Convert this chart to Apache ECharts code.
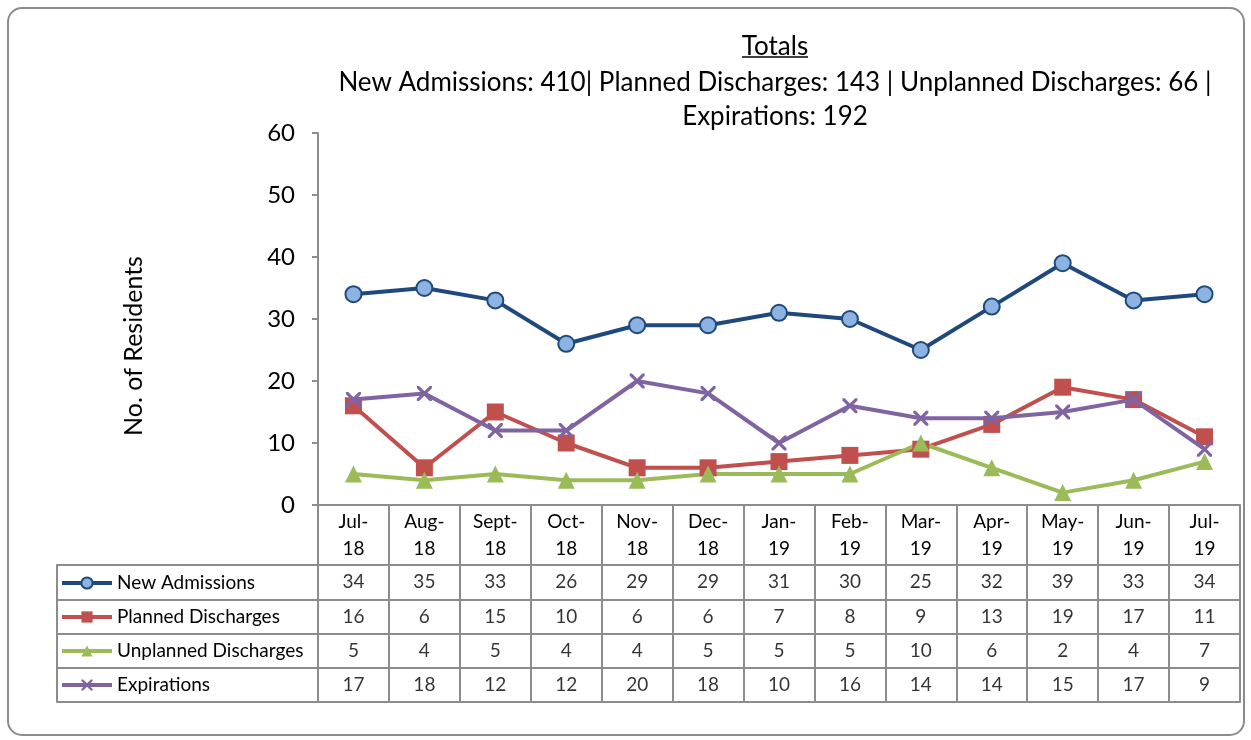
<!DOCTYPE html>
<html>
<head>
<meta charset="utf-8">
<script src="https://cdn.jsdelivr.net/npm/echarts@6/dist/echarts.min.js"></script>
<style>
html, body { margin: 0; padding: 0; background: #fff; }
#chart { width: 1251px; height: 740px; }
</style>
</head>
<body>
<div id="chart"></div>
<script>
// data
var months = ['Jul-\n18', 'Aug-\n18', 'Sept-\n18', 'Oct-\n18', 'Nov-\n18', 'Dec-\n18', 'Jan-\n19',
    'Feb-\n19', 'Mar-\n19', 'Apr-\n19', 'May-\n19', 'Jun-\n19', 'Jul-\n19'];
var seriesNames = ['New Admissions', 'Planned Discharges', 'Unplanned Discharges', 'Expirations'];
var newAdmissions = [34, 35, 33, 26, 29, 29, 31, 30, 25, 32, 39, 33, 34];
var plannedDischarges = [16, 6, 15, 10, 6, 6, 7, 8, 9, 13, 19, 17, 11];
var unplannedDischarges = [5, 4, 5, 4, 4, 5, 5, 5, 10, 6, 2, 4, 7];
var expirations = [17, 18, 12, 12, 20, 18, 10, 16, 14, 14, 15, 17, 9];
var yTicks = { min: 0, max: 60, interval: 10 };

var allValues = [newAdmissions, plannedDischarges, unplannedDischarges, expirations];
var colors = ['#1f497d', '#c0504d', '#9bbb59', '#8064a2'];
var FONT = 'Lato';
var GRAY = '#8c8c8c';
var xPath = 'path://M0,0 L3,0 L10,7 L17,0 L20,0 L20,3 L13,10 L20,17 L20,20 L17,20 L10,13 L3,20 L0,20 L0,17 L7,10 L0,3 Z';

function sum(arr) {
    return arr.reduce(function (a, b) { return a + b; }, 0);
}

var chart = echarts.init(document.getElementById('chart'));

// 表格里的数字
var cellData = [];
allValues.forEach(function (vals, r) {
    vals.forEach(function (v, c) {
        cellData.push([c, r, v]);
    });
});

var symbols = ['circle', 'rect', 'triangle', xPath];
var symbolSizes = [16, 17, 17, 15];

var lineSeries = allValues.map(function (vals, i) {
    return {
        name: seriesNames[i],
        type: 'line',
        xAxisIndex: 0,
        yAxisIndex: 0,
        data: vals,
        symbol: symbols[i],
        symbolSize: symbolSizes[i],
        showAllSymbol: true,
        lineStyle: { color: colors[i], width: 4 },
        itemStyle: i === 0
            ? { color: '#8db3e2', borderColor: colors[0], borderWidth: 2 }
            : { color: colors[i], borderWidth: 0 },
        emphasis: { disabled: true },
        z: i === 3 ? 4 : 3
    };
});

chart.setOption({
    animation: false,
    textStyle: { fontFamily: FONT },
    title: [{
        text: 'Totals',
        left: 770,
        top: 29,
        textAlign: 'center',
        textStyle: { fontFamily: FONT, fontSize: 26, fontWeight: 'normal', color: '#000' }
    }, {
        text: 'New Admissions: ' + sum(newAdmissions) + '| Planned Discharges: ' + sum(plannedDischarges) +
            ' | Unplanned Discharges: ' + sum(unplannedDischarges) + ' |\nExpirations: ' + sum(expirations),
        left: 770,
        top: 61,
        textAlign: 'center',
        textStyle: { fontFamily: FONT, fontSize: 26, fontWeight: 'normal', color: '#000', lineHeight: 34 }
    }],
    graphic: [{
        type: 'rect',
        shape: { x: 8, y: 8, width: 1236, height: 727, r: 14 },
        style: { fill: 'none', stroke: GRAY, lineWidth: 2 },
        silent: true
    }, {
        type: 'line',
        shape: { x1: 742, y1: 57, x2: 808, y2: 57 },
        style: { stroke: '#000', lineWidth: 1.5 },
        silent: true
    }],
    legend: {
        data: seriesNames,
        orient: 'vertical',
        left: 55,
        top: 568,
        itemWidth: 50,
        itemHeight: 14,
        itemGap: 14,
        lineStyle: { width: 4 },
        textStyle: { fontFamily: FONT, fontSize: 19, color: '#000', lineHeight: 20 },
        selectedMode: false
    },
    grid: [
        { left: 318, right: 11, top: 133, bottom: 235 },
        { left: 318, right: 11, top: 565, bottom: 38 }
    ],
    xAxis: [{
        type: 'category',
        gridIndex: 0,
        data: months,
        boundaryGap: true,
        axisLine: { lineStyle: { color: GRAY, width: 2 } },
        axisTick: { show: true, length: 60, lineStyle: { color: GRAY, width: 2 } },
        axisLabel: { fontFamily: FONT, fontSize: 19, color: '#000', lineHeight: 27, margin: 3, interval: 0 }
    }, {
        type: 'category',
        gridIndex: 1,
        data: months,
        boundaryGap: true,
        axisLine: { lineStyle: { color: GRAY, width: 2 } },
        axisTick: { show: false },
        axisLabel: { show: false },
        splitLine: { show: true, lineStyle: { color: GRAY, width: 2 } }
    }],
    yAxis: [{
        type: 'value',
        gridIndex: 0,
        min: yTicks.min,
        max: yTicks.max,
        interval: yTicks.interval,
        axisLine: { show: true, lineStyle: { color: GRAY, width: 2 } },
        axisTick: { show: true, length: 6, lineStyle: { color: GRAY, width: 2 } },
        axisLabel: { fontFamily: FONT, fontSize: 24, color: '#000', margin: 23 },
        splitLine: { show: false },
        name: 'No. of Residents',
        nameLocation: 'middle',
        nameRotate: 90,
        nameGap: 172,
        nameTextStyle: { fontFamily: FONT, fontSize: 25, color: '#000', padding: [0, 54, 0, 0] }
    }, {
        type: 'category',
        gridIndex: 1,
        data: seriesNames,
        inverse: true,
        boundaryGap: true,
        axisLine: { show: true, lineStyle: { color: GRAY, width: 2 } },
        axisTick: { show: true, length: 261, lineStyle: { color: GRAY, width: 2 } },
        axisLabel: { show: false },
        splitLine: { show: true, lineStyle: { color: GRAY, width: 2 } }
    }, {
        type: 'category',
        gridIndex: 1,
        data: seriesNames,
        inverse: true,
        position: 'left',
        offset: 261,
        axisLine: { show: true, lineStyle: { color: GRAY, width: 2 } },
        axisTick: { show: false },
        axisLabel: { show: false },
        splitLine: { show: false }
    }],
    series: lineSeries.concat([{
        type: 'scatter',
        xAxisIndex: 1,
        yAxisIndex: 1,
        data: cellData,
        symbol: 'rect',
        symbolSize: 1,
        itemStyle: { color: 'rgba(0,0,0,0)' },
        silent: true,
        label: {
            show: true,
            position: 'inside',
            formatter: function (p) { return p.value[2]; },
            fontFamily: FONT,
            fontSize: 19,
            color: '#000'
        }
    }])
});
</script>
</body>
</html>
